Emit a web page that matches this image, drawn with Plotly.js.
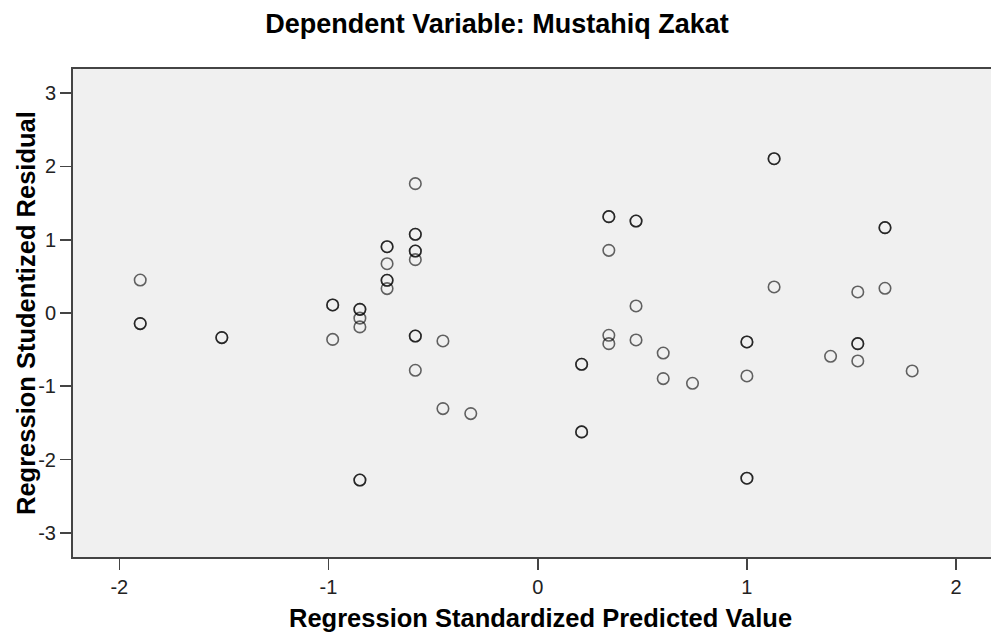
<!DOCTYPE html>
<html>
<head>
<meta charset="utf-8">
<script src="https://cdn.plot.ly/plotly-3.0.1.min.js"></script>
<style>
  html, body { margin: 0; padding: 0; background: #ffffff; }
  #chart { width: 991px; height: 634px; }
</style>
</head>
<body>
<div id="chart"></div>
<script>
// Regression Standardized Predicted Value (x) and Studentized Residual (y)
const predicted = [
  -1.90, -1.90, -1.90,
  -1.51, -1.51,
  -0.98, -0.98, -0.98,
  -0.85, -0.85, -0.85, -0.85, -0.85, -0.85,
  -0.72, -0.72, -0.72, -0.72, -0.72, -0.72,
  -0.585, -0.585, -0.585, -0.585, -0.585, -0.585, -0.585, -0.585, -0.585,
  -0.453, -0.453,
  -0.32,
  0.21, 0.21, 0.21, 0.21,
  0.34, 0.34, 0.34, 0.34, 0.34,
  0.47, 0.47, 0.47, 0.47,
  0.60, 0.60,
  0.74,
  1.00, 1.00, 1.00, 1.00, 1.00,
  1.13, 1.13, 1.13,
  1.40,
  1.53, 1.53, 1.53, 1.53,
  1.66, 1.66, 1.66,
  1.79
];
const residual = [
  0.45, -0.145, -0.145,
  -0.336, -0.336,
  0.11, 0.11, -0.36,
  0.05, 0.05, -0.07, -0.19, -2.28, -2.28,
  0.905, 0.905, 0.673, 0.446, 0.446, 0.333,
  1.765, 1.074, 1.074, 0.846, 0.846, 0.728, -0.314, -0.314, -0.782,
  -0.382, -1.305,
  -1.373,
  -0.70, -0.70, -1.623, -1.623,
  1.315, 1.315, 0.855, -0.304, -0.418,
  1.255, 1.255, 0.096, -0.368,
  -0.546, -0.895,
  -0.959,
  -0.395, -0.395, -0.859, -2.255, -2.255,
  2.106, 2.106, 0.355,
  -0.591,
  0.287, -0.418, -0.418, -0.655,
  1.165, 1.165, 0.337,
  -0.791
];
const xTicks = [-2, -1, 0, 1, 2];
const yTicks = [-3, -2, -1, 0, 1, 2, 3];
const chartTitle = 'Dependent Variable: Mustahiq Zakat';
const xTitle = 'Regression Standardized Predicted Value';
const yTitle = 'Regression Studentized Residual';

const FONT = "Liberation Sans, Arial, Helvetica, sans-serif";
const M = { l: 73, r: 0, t: 69, b: 77 };
const W = 991, H = 634;
const PW = W - M.l - M.r, PH = H - M.t - M.b;

const trace = {
  type: 'scatter',
  mode: 'markers',
  x: predicted,
  y: residual,
  marker: {
    symbol: 'circle-open',
    size: 11.5,
    color: 'rgba(0,0,0,0.6)',
    line: { width: 1.6 }
  },
  hoverinfo: 'x+y',
  showlegend: false
};

const layout = {
  width: W,
  height: H,
  margin: { l: M.l, r: M.r, t: M.t, b: M.b, pad: 0 },
  paper_bgcolor: '#ffffff',
  plot_bgcolor: '#f0f0f0',
  font: { family: FONT, color: '#222' },
  title: {
    text: '<b>' + chartTitle + '</b>',
    font: { family: FONT, size: 27, color: '#000' },
    x: 497 / W,
    xanchor: 'center',
    y: 1 - 24 / H,
    yanchor: 'middle'
  },
  xaxis: {
    range: [-2.2213, 2.1668],
    tickvals: xTicks,
    ticktext: xTicks.map(String),
    ticks: 'outside',
    ticklen: 11,
    tickwidth: 1.6,
    tickcolor: '#444',
    tickfont: { family: FONT, size: 20, color: '#222' },
    showgrid: false,
    zeroline: false,
    showline: true,
    linecolor: '#444',
    linewidth: 2,
    mirror: true
  },
  yaxis: {
    range: [-3.33, 3.33],
    tickvals: yTicks,
    ticktext: yTicks.map(String),
    ticks: 'outside',
    ticklen: 11,
    tickwidth: 1.6,
    tickcolor: '#444',
    tickfont: { family: FONT, size: 20, color: '#222' },
    showgrid: false,
    zeroline: false,
    showline: true,
    linecolor: '#444',
    linewidth: 2,
    mirror: false
  },
  annotations: [
    {
      text: '<b>' + xTitle + '</b>',
      xref: 'paper', yref: 'paper',
      x: (540 - M.l) / PW, xanchor: 'center',
      y: (H - M.b - 618) / PH, yanchor: 'middle',
      showarrow: false,
      font: { family: FONT, size: 25.5, color: '#000' }
    },
    {
      text: '<b>' + yTitle + '</b>',
      xref: 'paper', yref: 'paper',
      x: (26 - M.l) / PW, xanchor: 'center',
      y: (H - M.b - 313) / PH, yanchor: 'middle',
      textangle: -90,
      showarrow: false,
      font: { family: FONT, size: 25.5, color: '#000' }
    }
  ]
};

Plotly.newPlot('chart', [trace], layout, { displayModeBar: false, staticPlot: true });
</script>
</body>
</html>
